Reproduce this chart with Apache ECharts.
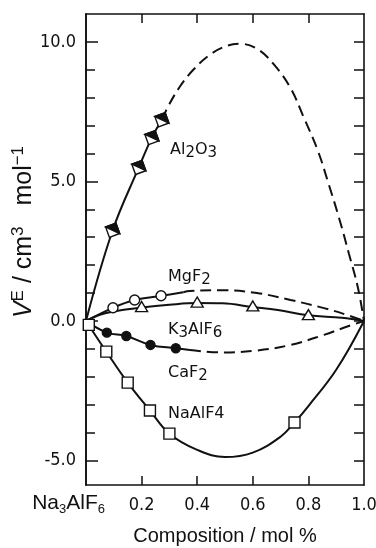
<!DOCTYPE html>
<html><head><meta charset="utf-8">
<script src="https://cdn.jsdelivr.net/npm/echarts@6/dist/echarts.min.js"></script>
<style>html,body{margin:0;padding:0;background:#fff}#c{width:376px;height:548px}</style>
</head><body><div id="c"></div>
<script>
// ---- axis ticks / labels ----
const xTickValues = [0.2, 0.4, 0.6, 0.8];
const xLabelValues = [0.2, 0.4, 0.6, 0.8, 1.0];
const xOriginLabel = 'Na3AlF6';
const yLabelValues = [-5, 0, 5, 10];
const yMinorTicks = [-4, -3, -2, -1, 1, 2, 3, 4, 6, 7, 8, 9];
const yAllTicks = [-5, -4, -3, -2, -1, 0, 1, 2, 3, 4, 5, 6, 7, 8, 9, 10];

// ---- Al2O3 ----
const al2o3Markers = [[0.096, 3.25], [0.19, 5.5], [0.237, 6.57], [0.273, 7.21]];
const al2o3Solid = [[0, 0], [0.096, 3.25], [0.19, 5.5], [0.237, 6.57], [0.273, 7.21]];
const al2o3Dashed = [[0.273, 7.21], [0.295, 7.68], [0.338, 8.4], [0.386, 9.0], [0.447, 9.55], [0.508, 9.86], [0.555, 9.93], [0.616, 9.75], [0.675, 9.2], [0.735, 8.36], [0.783, 7.3], [0.834, 6.1], [0.873, 4.9], [0.91, 3.7], [0.946, 2.4], [0.978, 1.2], [1.0, 0]];

// ---- MgF2 ----
const mgf2Markers = [[0.097, 0.47], [0.175, 0.75], [0.27, 0.9]];
const mgf2Solid = [[0, 0], [0.097, 0.47], [0.175, 0.75], [0.27, 0.9], [0.35, 1.03]];
const mgf2Dashed = [[0.35, 1.03], [0.374, 1.07], [0.494, 1.1], [0.615, 1.0], [0.736, 0.75], [0.856, 0.46], [0.94, 0.21], [1.0, 0]];

// ---- K3AlF6 ----
const k3alf6Markers = [[0.2, 0.48], [0.4, 0.64], [0.6, 0.5], [0.8, 0.19]];
const k3alf6Line = [[0, 0], [0.05, 0.22], [0.1, 0.34], [0.2, 0.48], [0.3, 0.58], [0.4, 0.64], [0.49, 0.63], [0.6, 0.5], [0.69, 0.39], [0.8, 0.2], [0.92, 0.11], [1.0, 0]];

// ---- CaF2 ----
const caf2Markers = [[0.075, -0.42], [0.145, -0.54], [0.232, -0.86], [0.323, -0.98]];
const caf2Solid = [[0, 0], [0.075, -0.42], [0.145, -0.54], [0.232, -0.86], [0.323, -0.98], [0.374, -1.04]];
const caf2Dashed = [[0.374, -1.04], [0.494, -1.13], [0.615, -1.06], [0.736, -0.86], [0.856, -0.5], [0.94, -0.2], [1.0, 0]];

// ---- NaAlF4 ----
const naalf4Markers = [[0.01, -0.14], [0.073, -1.1], [0.15, -2.21], [0.23, -3.21], [0.30, -4.04], [0.75, -3.64]];
const naalf4Line = [[0, 0], [0.073, -1.1], [0.15, -2.21], [0.23, -3.21], [0.30, -4.04], [0.4, -4.62], [0.5, -4.88], [0.6, -4.72], [0.7, -4.15], [0.75, -3.64], [0.8, -3.05], [0.9, -1.75], [1.0, 0]];

const BLACK = '#111';
const NUM_FONT = '"Liberation Sans Narrow", "DejaVu Sans Condensed", sans-serif';
const LAB_FONT = 'DejaVu Sans';
const SANS = 'Liberation Sans';

function lineSeries(data, dashed) {
  return {
    type: 'line', data: data, smooth: 0.4, showSymbol: false, symbol: 'none',
    lineStyle: { color: BLACK, width: 2, type: dashed ? [11, 6] : 'solid' },
    silent: true, z: 2
  };
}
function markerSeries(data, symbol, size, fill, extra) {
  return Object.assign({
    type: 'scatter', data: data, symbol: symbol, symbolSize: size,
    itemStyle: { color: fill, borderColor: BLACK, borderWidth: 1.4, opacity: 1 }, z: 5, silent: true
  }, extra || {});
}
// chemical formula -> rich text with subscripted digits
function formula(str, subDigits) {
  let out = '';
  for (const ch of str) {
    if (/[0-9]/.test(ch) && subDigits) out += '{s|' + ch + '}';
    else out += '{n|' + ch + '}';
  }
  return out;
}

const chart = echarts.init(document.getElementById('c'), null, { renderer: 'canvas' });

const frameLine = { show: true, onZero: false, lineStyle: { color: BLACK, width: 1.6 } };
const subRich = {
  n: { fontFamily: SANS, fontSize: 21, color: BLACK, lineHeight: 21 },
  s: { fontFamily: SANS, fontSize: 13, color: BLACK, lineHeight: 13, padding: [12, 0, 0, 0] }
};
const labRich = {
  n: { fontFamily: LAB_FONT, fontSize: 16, color: BLACK, lineHeight: 16 },
  s: { fontFamily: LAB_FONT, fontSize: 15, color: BLACK, lineHeight: 15, padding: [7, 0, 0, 0] }
};

function seriesLabel(text, x, y, sub) {
  return { type: 'text', x: x, y: y, z: 10, style: { text: formula(text, sub), rich: labRich, fill: BLACK, textVerticalAlign: 'middle', textAlign: 'left' } };
}

chart.setOption({
  animation: false,
  backgroundColor: '#fff',
  grid: { left: 86, right: 12, top: 14, bottom: 63, containLabel: false, outerBoundsMode: 'none' },
  xAxis: [{
    type: 'value', position: 'bottom', min: 0, max: 1,
    axisLine: frameLine,
    axisTick: { show: true, inside: true, length: 9, customValues: xTickValues, lineStyle: { color: BLACK, width: 1.5 } },
    axisLabel: {
      show: true, margin: 11, customValues: xLabelValues,
      fontFamily: NUM_FONT, fontSize: 18, color: BLACK,
      formatter: function (v) { return v.toFixed(1); }
    },
    splitLine: { show: false },
    name: 'Composition / mol %', nameLocation: 'middle', nameGap: 41,
    nameTextStyle: { fontFamily: SANS, fontSize: 20, color: BLACK }
  }, {
    type: 'value', position: 'top', min: 0, max: 1,
    axisLine: frameLine,
    axisTick: { show: true, inside: true, length: 9, customValues: xTickValues, lineStyle: { color: BLACK, width: 1.5 } },
    axisLabel: { show: false }, splitLine: { show: false }
  }],
  yAxis: [{
    type: 'value', position: 'left', min: -5.88, max: 11,
    axisLine: frameLine,
    axisTick: { show: true, inside: true, length: 12, customValues: yLabelValues, lineStyle: { color: BLACK, width: 1.5 } },
    axisLabel: {
      show: true, margin: 10, customValues: yLabelValues,
      fontFamily: NUM_FONT, fontSize: 18, color: BLACK,
      formatter: function (v) { return v.toFixed(1); }
    },
    splitLine: { show: false }
  }, {
    type: 'value', position: 'left', min: -5.88, max: 11,
    axisLine: frameLine,
    axisTick: { show: true, inside: true, length: 9, customValues: yMinorTicks, lineStyle: { color: BLACK, width: 1.5 } },
    axisLabel: { show: false }, splitLine: { show: false }
  }, {
    type: 'value', position: 'right', min: -5.88, max: 11,
    axisLine: frameLine,
    axisTick: { show: true, inside: true, length: 10, customValues: yAllTicks, lineStyle: { color: BLACK, width: 1.5 } },
    axisLabel: { show: false }, splitLine: { show: false }
  }],
  graphic: [
    {
      type: 'text', x: 24, y: 232, rotation: Math.PI / 2, z: 10,
      style: {
        text: '{v|V}{sup|E}{n| / cm}{sup|3}{n|   mol}{sup|−1}',
        textAlign: 'center', textVerticalAlign: 'middle', fill: BLACK,
        rich: {
          v: { fontFamily: SANS, fontSize: 25, fontStyle: 'italic', lineHeight: 25 },
          n: { fontFamily: SANS, fontSize: 25, lineHeight: 25 },
          sup: { fontFamily: SANS, fontSize: 17, lineHeight: 17, padding: [0, 0, 12, 0] }
        }
      }
    },
    {
      type: 'text', x: 105, y: 503, z: 10,
      style: { text: formula(xOriginLabel, true), rich: subRich, fill: BLACK, textAlign: 'right', textVerticalAlign: 'middle' }
    },
    seriesLabel('Al2O3', 170, 150, true),
    seriesLabel('MgF2', 168, 277, true),
    seriesLabel('K3AlF6', 168, 330, true),
    seriesLabel('CaF2', 168, 373, true),
    seriesLabel('NaAlF4', 168, 414, false)
  ],
  series: [
    lineSeries(al2o3Solid, false),
    lineSeries(al2o3Dashed, true),
    lineSeries(mgf2Solid, false),
    lineSeries(mgf2Dashed, true),
    lineSeries(k3alf6Line, false),
    lineSeries(caf2Solid, false),
    lineSeries(caf2Dashed, true),
    lineSeries(naalf4Line, false),
    markerSeries(al2o3Markers, 'rect', 11, '#fff', { symbolRotate: 20 }),
    markerSeries(al2o3Markers, 'path://M0,0L10,0L10,10Z', 11, BLACK, { symbolRotate: 20, symbolKeepAspect: true, z: 6 }),
    markerSeries(mgf2Markers, 'circle', 10, '#fff'),
    markerSeries(k3alf6Markers, 'triangle', [12, 10], '#fff', { symbolOffset: [0, -1] }),
    markerSeries(caf2Markers, 'circle', 9, BLACK),
    markerSeries(naalf4Markers, 'rect', 11, '#fff')
  ]
});
</script></body></html>
